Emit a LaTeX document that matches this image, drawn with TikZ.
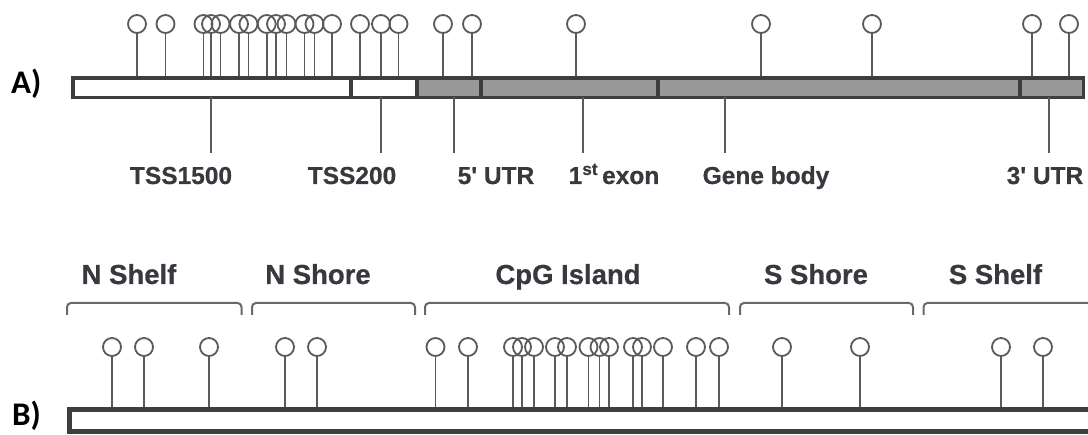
\documentclass[tikz,border=0pt]{standalone}
\usepackage{fontspec}
\setmainfont{Liberation Sans}
\newfontfamily\heavy{Liberation Sans Bold}[FakeBold=0.6]
\newfontfamily\calib{Carlito}
\definecolor{ink}{RGB}{55,57,63}
\definecolor{barline}{RGB}{62,62,62}
\definecolor{bargray}{RGB}{153,153,153}
\definecolor{stemc}{RGB}{90,90,90}
\definecolor{brack}{RGB}{105,105,105}
\begin{document}
\begin{tikzpicture}[x=1pt,y=-1pt,
  pop/.style={circle, draw=stemc, line width=1.8pt, minimum size=18pt, inner sep=0pt},
  stem/.style={draw=stemc, line width=1.9pt},
  tick/.style={draw=stemc, line width=1.9pt},
  bar/.style={draw=barline, line width=3.5pt},
  barB/.style={draw=barline, line width=5pt, fill=white},
  lblA/.style={font=\heavy\fontsize{24.5}{28}\selectfont, text=ink, anchor=base, inner sep=0pt},
  lblB/.style={font=\heavy\fontsize{27.5}{32}\selectfont, text=ink, anchor=base, inner sep=0pt},
  panel/.style={font=\calib\fontsize{33}{38}\selectfont\bfseries, text=black, anchor=base west, inner sep=0pt},
  brk/.style={draw=brack, line width=2pt, rounded corners=4pt}]
\useasboundingbox (0,0) rectangle (1088,435);

% ---------------- Panel A ----------------
\node[panel] (pA) at (11,94) {A)};
\coordinate (barAtop) at (0,78);
\coordinate (barAbot) at (0,97.5);
\foreach \x [count=\i] in {137,165.5,203.5,211,220.5,239,248.5,266.7,276,286.5,304.5,314.5,332,360,381,398.5,443,472,576,761,872,1032,1069}{
  \node[pop] (a\i) at (\x,24) {};
  \draw[stem] (a\i.south) -- (a\i.south |- barAtop);
}
% bar segments
\path[fill=white] (72.75,78) rectangle (417,97.5);
\path[fill=bargray] (417,78) rectangle (1083.5,97.5);
\draw[bar] (72.75,78) rectangle (1083.5,97.5);
\foreach \x in {351,417,481,658,1020}{
  \draw[bar] (\x,78) -- (\x,97.5);
}
% region labels
\foreach \lx/\tx/\n/\txt in {210.7/181/1/TSS1500, 380.7/352/2/TSS200, 454/496/3/{5' UTR}, 582.7/614/4/{1\textsuperscript{st}\,exon}, 724.7/766/5/{Gene body}, 1049.3/1045/6/{3' UTR}}{
  \coordinate (t\n) at (\lx,153);
  \node[lblA] (L\n) at (\tx,184) {\txt};
  \draw[tick] (t\n |- barAbot) -- (t\n);
}

% ---------------- Panel B ----------------
\node[panel] (pB) at (12,426) {B)};
\coordinate (barBtop) at (0,409.5);
\foreach \x [count=\i] in {112,144,209,285,317,435.5,468,513,522,534,555,567,588.5,599.5,609,633,642,663,696,719,782,860,1001,1043}{
  \node[pop] (b\i) at (\x,347) {};
  \draw[stem] (b\i.south) -- (b\i.south |- barBtop);
}
\draw[barB] (69.5,409.5) rectangle (1096,432);

% brackets and labels
\foreach \xa/\xb/\tx/\n/\txt in {67/241.5/129/1/{N Shelf}, 252/415/318/2/{N Shore}, 425/729/568/3/{CpG Island}, 740/913/816/4/{S Shore}, 923.5/1100/995.5/5/{S Shelf}}{
  \coordinate (ba\n) at (\xa,315);
  \coordinate (bb\n) at (\xb,315);
  \draw[brk] (ba\n) -- (\xa,303) -- (\xb,303) -- (bb\n);
  \node[lblB] (R\n) at (\tx,284) {\txt};
}
\end{tikzpicture}
\end{document}
